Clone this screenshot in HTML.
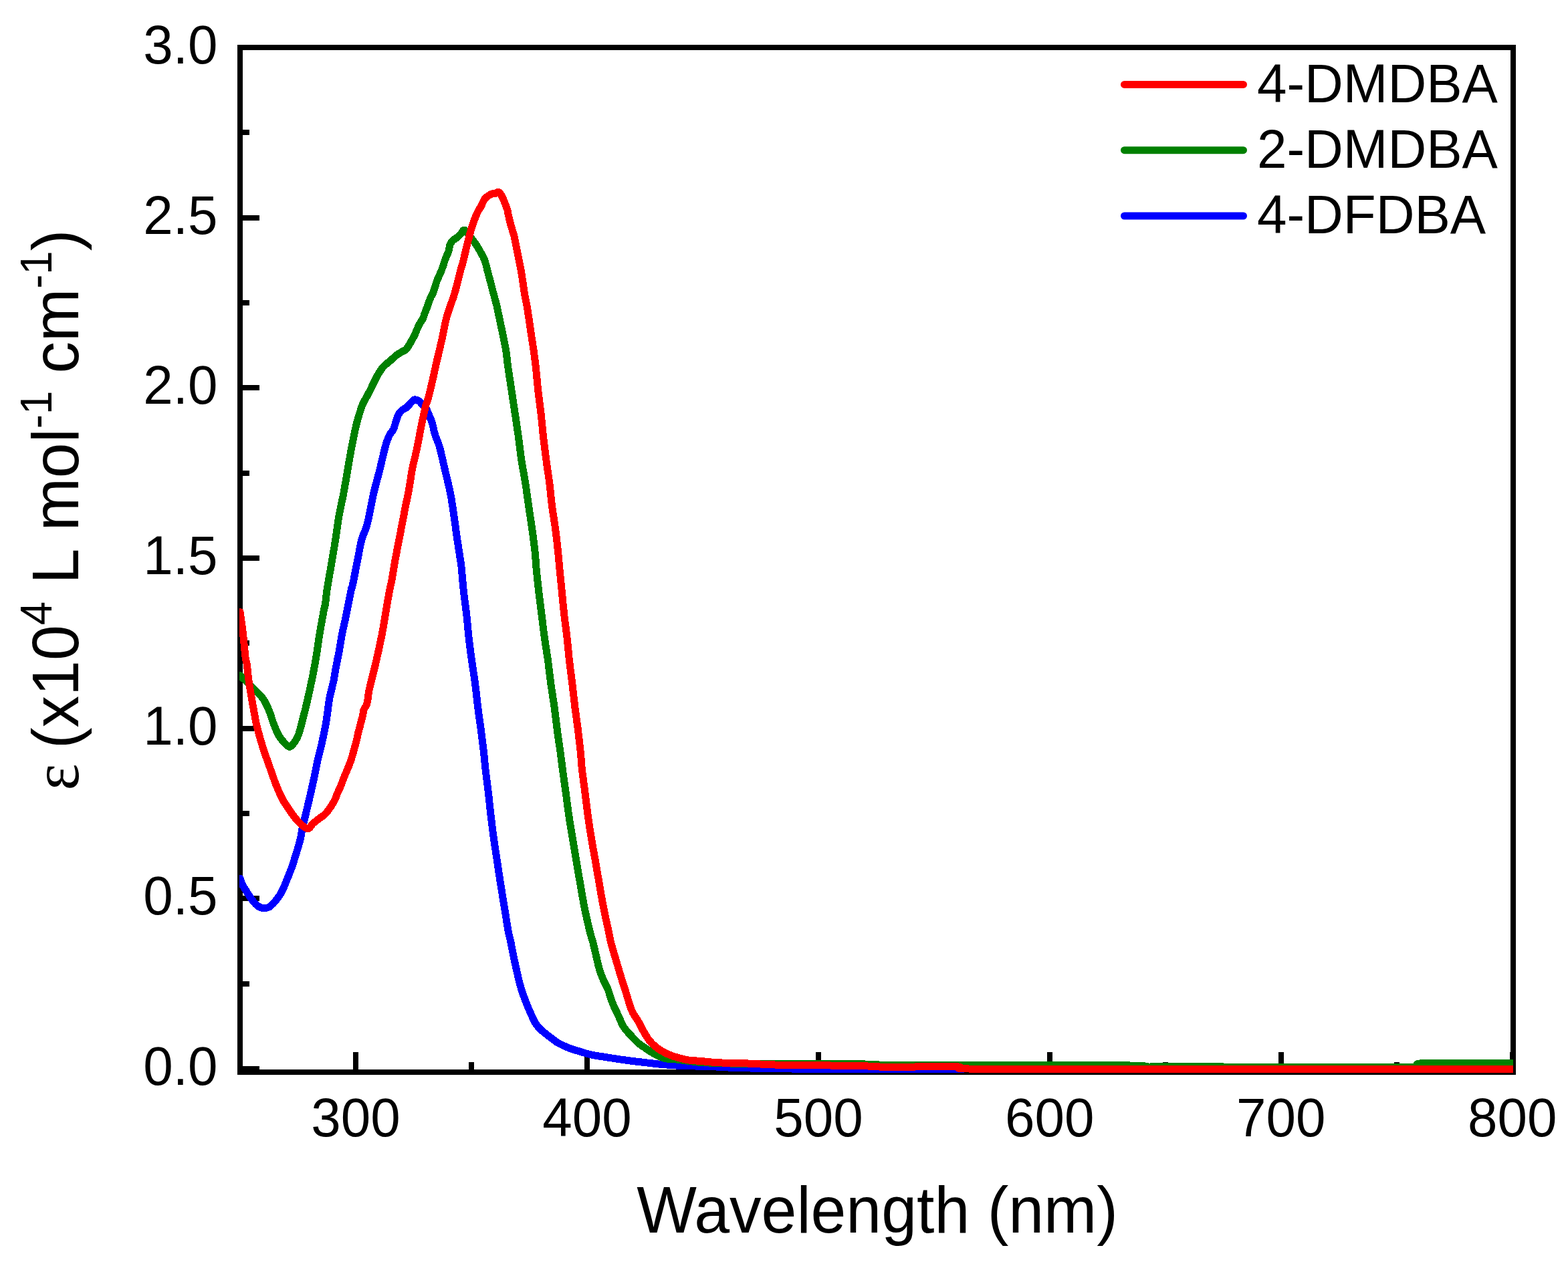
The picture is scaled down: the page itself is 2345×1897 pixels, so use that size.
<!DOCTYPE html><html><head><meta charset="utf-8"><title>Absorption spectra</title><style>html,body{margin:0;padding:0;background:#fff;}svg{display:block;}text{font-family:"Liberation Sans",Arial,sans-serif;fill:#000;}</style></head><body>
<svg width="2345" height="1897" viewBox="0 0 2345 1897">
<rect x="0" y="0" width="2345" height="1897" fill="#fff"/>
<path d="M363 1599.0h25M363 1471.7h10M363 1344.3h25M363 1217.0h10M363 1089.7h25M363 962.4h10M363 835.0h25M363 707.7h10M363 580.4h25M363 453.1h10M363 325.8h25M363 198.4h10M363 71.1h25M532.1 1600v-26M705.0 1600v-11M878.0 1600v-26M1050.9 1600v-11M1223.9 1600v-26M1396.9 1600v-11M1569.8 1600v-26M1742.8 1600v-11M1915.7 1600v-26M2088.7 1600v-11M2261.7 1600v-26" stroke="#000" stroke-width="8" fill="none" shape-rendering="crispEdges"/>
<rect x="359" y="71" width="1904" height="1533" fill="none" stroke="#000" stroke-width="8" shape-rendering="crispEdges"/>
<defs><clipPath id="pc"><rect x="358" y="67" width="1905" height="1545"/></clipPath></defs>
<g fill="none" stroke-width="11" stroke-linejoin="round" stroke-linecap="round" clip-path="url(#pc)" shape-rendering="crispEdges">
<path d="M359.1 1314.0C359.4 1315.0 360.2 1317.8 361.0 1319.8C361.8 1321.8 362.9 1324.3 364.0 1326.3C365.1 1328.3 366.0 1329.4 367.6 1331.9C369.2 1334.4 371.5 1338.2 373.5 1341.1C375.5 1344.0 377.3 1347.0 379.4 1349.5C381.5 1352.0 384.0 1354.3 386.1 1355.8C388.2 1357.3 390.1 1357.8 391.9 1358.3C393.7 1358.8 395.2 1358.7 397.0 1358.5C398.8 1358.3 400.4 1358.2 402.4 1357.0C404.3 1355.8 406.6 1353.8 408.7 1351.6C410.8 1349.4 413.0 1346.7 415.0 1344.0C417.0 1341.3 418.8 1338.7 420.5 1335.7C422.2 1332.7 423.6 1329.5 425.1 1326.0C426.6 1322.5 428.2 1318.3 429.7 1314.7C431.2 1311.1 432.5 1308.0 433.9 1304.2C435.3 1300.4 435.8 1299.7 438.3 1291.9C440.8 1284.1 446.5 1265.8 448.7 1257.4C450.9 1249.0 450.2 1248.3 451.7 1241.4C453.2 1234.5 455.7 1224.5 457.7 1216.0C459.7 1207.5 461.8 1199.2 463.7 1190.7C465.6 1182.2 467.6 1173.8 469.4 1165.3C471.2 1156.8 472.7 1148.0 474.5 1140.0C476.3 1132.0 478.8 1122.9 480.2 1117.0C481.6 1111.1 481.6 1111.0 482.9 1104.6C484.2 1098.2 486.6 1087.3 488.0 1078.7C489.4 1070.1 490.6 1059.0 491.5 1052.8C492.4 1046.6 492.2 1047.1 493.5 1041.3C494.8 1035.5 497.4 1025.9 499.0 1018.2C500.6 1010.5 501.9 1001.0 503.0 995.2C504.1 989.5 504.5 987.5 505.3 983.7C506.1 979.9 506.6 978.0 507.6 972.2C508.6 966.4 510.0 956.8 511.5 949.1C513.0 941.4 514.9 933.8 516.5 926.1C518.1 918.4 519.6 910.7 521.1 903.0C522.6 895.3 524.7 884.4 525.7 880.0C526.7 875.6 525.7 882.9 527.1 876.5C528.5 870.1 531.7 853.4 534.0 841.9C536.3 830.4 538.6 816.0 540.9 807.4C543.1 798.8 545.7 795.8 547.5 790.0C549.3 784.2 549.9 781.4 551.8 772.8C553.7 764.2 556.1 749.7 558.7 738.2C561.4 726.7 564.8 715.2 567.7 703.7C570.6 692.2 573.6 677.8 576.0 669.1C578.4 660.5 579.9 656.3 582.0 651.8C584.1 647.3 586.7 645.7 588.4 642.2C590.1 638.7 590.9 634.2 592.1 630.6C593.3 627.0 594.2 623.2 595.8 620.3C597.4 617.4 599.9 615.1 601.9 613.3C603.9 611.5 606.0 611.2 608.0 609.6C610.0 608.0 611.8 605.5 613.6 603.6C615.4 601.7 617.3 599.3 618.7 598.4C620.1 597.5 620.9 597.9 621.9 598.0C622.9 598.1 623.6 598.3 624.7 598.9C625.8 599.5 627.4 600.6 628.5 601.7C629.6 602.8 629.9 604.0 631.3 605.4C632.6 606.8 635.3 608.4 636.6 610.0C637.9 611.6 637.6 611.4 639.1 615.0C640.6 618.6 644.0 625.7 645.9 631.5C647.8 637.3 648.6 643.7 650.5 650.0C652.4 656.3 655.0 660.0 657.5 669.1C660.0 678.2 663.1 692.9 665.8 704.5C668.5 716.1 671.6 727.5 673.8 739.0C676.0 750.5 677.5 762.2 679.2 773.7C680.9 785.2 682.3 796.9 684.0 808.3C685.7 819.7 688.2 834.9 689.2 841.9C690.2 848.9 689.5 842.9 690.2 850.0C690.9 857.1 692.1 873.1 693.4 884.6C694.6 896.1 696.4 907.6 697.7 919.1C699.0 930.6 699.8 942.2 701.1 953.7C702.4 965.2 703.9 976.7 705.5 988.2C707.1 999.7 709.1 1011.3 710.6 1022.8C712.1 1034.3 713.2 1045.9 714.6 1057.4C716.0 1068.9 717.8 1080.4 719.3 1091.9C720.8 1103.4 722.5 1116.8 723.6 1126.5C724.7 1136.2 724.8 1140.3 725.9 1150.0C727.0 1159.7 728.9 1173.1 730.2 1184.6C731.6 1196.1 732.6 1207.6 734.0 1219.1C735.4 1230.6 736.7 1242.2 738.3 1253.7C739.9 1265.2 741.8 1276.7 743.5 1288.2C745.2 1299.7 746.9 1311.3 748.7 1322.8C750.5 1334.3 752.5 1345.9 754.4 1357.4C756.3 1368.9 758.3 1383.1 759.9 1391.9C761.5 1400.7 762.4 1402.3 764.0 1410.0C765.6 1417.7 767.6 1428.7 769.6 1438.0C771.6 1447.3 774.2 1458.9 775.9 1465.9C777.6 1472.9 778.1 1474.8 779.8 1480.0C781.4 1485.2 783.6 1491.5 785.8 1497.3C788.0 1503.1 790.4 1508.8 793.0 1514.6C795.6 1520.3 798.6 1527.4 801.4 1531.8C804.2 1536.2 806.3 1537.9 809.7 1541.1C813.1 1544.3 817.8 1547.8 821.8 1550.9C825.8 1554.0 829.5 1557.1 833.4 1559.5C837.2 1561.9 841.1 1563.6 844.9 1565.3C848.7 1567.0 852.6 1568.6 856.4 1569.9C860.2 1571.2 864.1 1572.2 867.9 1573.3C871.7 1574.4 875.7 1575.8 879.4 1576.8C883.1 1577.8 885.7 1578.3 890.0 1579.1C894.3 1579.9 899.0 1580.5 905.0 1581.4C911.0 1582.3 918.8 1583.7 925.7 1584.7C932.6 1585.7 939.6 1586.6 946.5 1587.5C953.4 1588.4 960.3 1589.1 967.2 1589.9C974.1 1590.7 979.2 1591.5 988.0 1592.3C996.8 1593.1 1008.0 1594.0 1020.0 1594.5C1032.0 1595.0 1046.7 1595.0 1060.0 1595.5C1073.3 1596.0 1085.0 1597.0 1100.0 1597.5C1115.0 1598.0 1133.3 1598.2 1150.0 1598.5C1166.7 1598.8 1175.0 1599.0 1200.0 1599.2C1225.0 1599.4 1260.5 1599.4 1300.0 1599.4C1339.5 1599.4 1410.3 1599.4 1437.0 1599.3C1463.7 1599.2 1322.3 1598.9 1460.0 1598.8C1597.7 1598.7 2129.2 1598.8 2263.0 1598.8" stroke="#0000ff"/>
<path d="M359.1 1010.5C361.3 1012.6 367.7 1018.8 372.3 1023.3C376.9 1027.8 383.0 1033.7 386.7 1037.6C390.4 1041.5 391.8 1042.5 394.5 1046.9C397.2 1051.3 400.4 1058.3 402.8 1064.1C405.2 1069.8 406.4 1075.4 408.7 1081.4C411.0 1087.4 413.9 1095.0 416.6 1099.9C419.3 1104.8 422.3 1108.1 425.0 1111.0C427.7 1113.9 430.5 1117.3 433.0 1117.3C435.5 1117.3 437.8 1113.9 440.0 1111.0C442.2 1108.1 444.4 1104.2 446.1 1099.9C447.9 1095.6 448.4 1093.2 450.5 1085.0C452.6 1076.8 456.4 1062.1 459.0 1051.0C461.6 1039.9 463.9 1029.4 466.2 1018.2C468.5 1007.0 470.8 995.2 472.7 983.7C474.6 972.2 476.0 960.6 477.9 949.1C479.8 937.6 482.6 922.3 484.0 914.6C485.4 906.9 485.7 908.8 486.6 903.0C487.5 897.2 487.8 890.2 489.4 880.0C491.0 869.8 493.9 854.0 496.0 841.9C498.1 829.8 499.9 818.9 501.7 807.4C503.5 795.9 504.8 784.3 506.8 772.8C508.8 761.3 511.6 749.7 513.8 738.2C516.0 726.7 517.8 715.2 519.8 703.7C521.8 692.2 523.7 680.6 525.9 669.1C528.1 657.6 530.6 644.7 533.1 634.6C535.6 624.5 538.9 614.4 540.9 608.6C542.9 602.8 542.9 603.9 544.9 600.0C546.9 596.1 550.7 589.5 553.0 585.0C555.3 580.5 557.0 576.6 558.9 572.8C560.8 569.0 562.1 565.9 564.1 562.4C566.1 558.9 568.6 554.8 570.6 552.0C572.6 549.2 573.8 548.1 576.3 545.8C578.8 543.5 583.0 540.2 585.6 538.0C588.2 535.8 589.5 534.1 591.8 532.3C594.1 530.5 597.1 528.6 599.6 527.1C602.1 525.6 604.9 524.7 606.9 523.0C608.9 521.3 610.1 519.0 611.5 516.8C612.9 514.6 613.8 512.7 615.3 510.0C616.8 507.3 619.1 503.4 620.5 500.5C621.9 497.6 622.6 495.1 623.8 492.4C625.0 489.7 626.1 487.1 627.6 484.4C629.1 481.7 631.3 479.0 632.6 476.3C633.9 473.6 634.4 470.9 635.4 468.2C636.4 465.5 637.5 462.9 638.5 460.2C639.5 457.5 640.3 454.8 641.3 452.1C642.3 449.4 643.4 446.3 644.5 444.0C645.6 441.7 646.2 442.0 647.7 438.2C649.2 434.4 651.1 426.8 653.2 421.0C655.4 415.2 658.6 409.0 660.6 403.7C662.6 398.4 663.8 393.8 665.5 389.1C667.2 384.4 669.9 379.1 671.1 375.3C672.3 371.5 671.8 368.7 672.9 366.1C674.0 363.5 675.6 361.5 677.5 359.6C679.4 357.8 682.0 356.7 684.0 355.0C686.0 353.3 687.6 351.3 689.5 349.5C691.4 347.7 692.4 342.8 695.3 344.4C698.2 346.0 704.2 355.6 707.0 359.2C709.8 362.8 710.3 363.4 712.1 366.1C713.9 368.8 715.7 371.9 717.6 375.3C719.5 378.7 722.1 382.9 723.6 386.4C725.1 389.8 725.9 393.0 726.8 396.0C727.7 399.0 727.8 400.3 728.9 404.6C730.0 408.9 732.1 416.3 733.6 422.0C735.1 427.7 736.5 433.2 738.0 439.0C739.5 444.8 741.3 450.7 742.7 456.5C744.1 462.3 745.2 468.1 746.4 473.8C747.6 479.6 748.8 485.1 750.0 491.0C751.2 496.9 752.6 503.3 753.8 509.2C755.0 515.1 756.0 519.7 757.0 526.5C758.0 533.3 758.5 540.3 759.9 550.0C761.2 559.7 763.4 573.1 765.1 584.6C766.8 596.1 768.6 607.6 770.3 619.1C772.0 630.6 773.8 642.2 775.4 653.7C777.0 665.2 778.1 676.7 779.8 688.2C781.5 699.7 784.0 711.3 785.8 722.8C787.6 734.3 789.0 745.9 790.7 757.4C792.4 768.9 794.2 780.4 795.8 791.9C797.4 803.4 799.2 816.8 800.2 826.5C801.2 836.2 801.1 840.3 802.0 850.0C802.9 859.7 804.4 873.1 805.7 884.6C807.0 896.1 808.6 907.6 810.0 919.1C811.4 930.6 812.7 942.2 814.3 953.7C815.9 965.2 817.9 976.7 819.5 988.2C821.1 999.7 822.2 1011.3 823.8 1022.8C825.4 1034.3 827.4 1045.9 829.0 1057.4C830.6 1068.9 831.8 1080.4 833.3 1091.9C834.8 1103.4 836.9 1116.8 838.2 1126.5C839.5 1136.2 839.9 1140.3 841.2 1150.0C842.5 1159.7 844.4 1173.1 846.0 1184.6C847.6 1196.1 848.9 1207.6 850.6 1219.1C852.3 1230.6 854.4 1242.2 856.3 1253.7C858.2 1265.2 860.0 1276.7 861.9 1288.2C863.8 1299.7 865.9 1311.3 867.9 1322.8C869.9 1334.3 871.7 1345.9 874.0 1357.4C876.3 1368.9 879.6 1383.1 881.7 1391.9C883.8 1400.7 884.8 1402.3 886.8 1410.0C888.8 1417.7 891.8 1431.3 893.4 1438.0C895.0 1444.7 894.9 1445.3 896.4 1450.0C897.9 1454.7 900.1 1460.9 902.2 1465.9C904.3 1470.9 906.8 1474.2 909.1 1480.0C911.4 1485.8 913.3 1493.8 916.1 1500.7C918.9 1507.6 923.1 1515.7 925.7 1521.5C928.4 1527.3 929.5 1531.1 932.0 1535.3C934.5 1539.5 937.4 1542.4 941.0 1546.4C944.6 1550.4 949.6 1556.0 953.4 1559.5C957.2 1563.0 960.3 1564.7 963.8 1567.1C967.2 1569.5 970.6 1571.9 974.1 1574.0C977.6 1576.1 981.0 1578.0 984.5 1579.6C988.0 1581.2 990.9 1582.8 994.9 1583.7C998.9 1584.6 1003.0 1584.1 1008.7 1584.7C1014.5 1585.3 1023.6 1586.5 1029.4 1587.2C1035.2 1587.9 1038.2 1588.5 1043.3 1589.0C1048.4 1589.5 1050.5 1589.6 1060.0 1590.0C1069.5 1590.4 1085.2 1590.9 1100.0 1591.2C1114.8 1591.5 1125.3 1591.7 1149.0 1591.7C1172.7 1591.7 1220.2 1591.2 1242.0 1591.2C1263.8 1591.2 1264.5 1591.1 1280.0 1591.5C1295.5 1591.9 1315.0 1593.3 1335.0 1593.7C1355.0 1594.1 1340.8 1593.8 1400.0 1593.8C1459.2 1593.8 1639.2 1593.4 1690.0 1594.0C1740.8 1594.6 1700.0 1597.2 1705.0 1597.5C1710.0 1597.8 1699.2 1596.2 1720.0 1596.0C1740.8 1595.8 1800.0 1595.9 1830.0 1596.0C1860.0 1596.1 1851.5 1596.4 1900.0 1596.5C1948.5 1596.6 2083.5 1597.2 2121.0 1596.8C2158.5 1596.4 2123.3 1595.0 2125.0 1594.0C2126.7 1593.0 2108.0 1591.2 2131.0 1590.6C2154.0 1590.0 2241.0 1590.5 2263.0 1590.5" stroke="#008000"/>
<path d="M359.1 915.5C359.9 921.1 362.3 937.7 363.6 949.1C364.9 960.5 366.1 976.1 367.1 983.7C368.1 991.4 368.6 989.3 369.4 995.0C370.2 1000.7 370.9 1010.3 372.0 1018.0C373.1 1025.7 374.4 1033.4 375.7 1041.1C377.0 1048.8 378.4 1056.4 379.8 1064.1C381.2 1071.8 382.1 1078.0 384.4 1087.2C386.7 1096.4 390.3 1109.2 393.4 1119.1C396.5 1128.9 400.6 1139.6 402.9 1146.3C405.2 1153.0 405.9 1154.8 407.4 1159.0C408.9 1163.2 410.3 1167.5 411.9 1171.7C413.5 1175.9 415.3 1180.2 417.2 1184.4C419.1 1188.6 420.8 1192.8 423.2 1197.0C425.6 1201.2 428.7 1205.7 431.4 1209.7C434.1 1213.7 436.5 1217.4 439.4 1221.1C442.3 1224.8 445.4 1228.8 448.9 1231.9C452.4 1235.1 457.1 1240.0 460.3 1240.0C463.5 1240.0 465.0 1234.8 467.9 1232.2C470.8 1229.6 474.2 1227.1 477.4 1224.6C480.6 1222.1 483.7 1220.7 486.9 1217.3C490.1 1213.9 493.9 1208.0 496.4 1204.3C498.8 1200.6 500.2 1197.8 501.6 1195.0C503.0 1192.2 503.1 1190.4 504.5 1187.2C505.9 1184.0 508.1 1179.4 509.7 1175.6C511.3 1171.8 512.5 1167.9 514.0 1164.1C515.5 1160.3 517.3 1156.4 518.9 1152.6C520.5 1148.8 522.1 1144.9 523.5 1141.1C524.9 1137.3 526.1 1133.4 527.3 1129.6C528.4 1125.8 529.3 1121.8 530.4 1118.0C531.5 1114.2 532.7 1110.3 533.6 1106.5C534.5 1102.7 535.3 1097.9 536.0 1095.0C536.7 1092.1 537.0 1091.6 537.7 1089.1C538.4 1086.6 539.2 1083.0 540.0 1079.9C540.8 1076.8 541.7 1073.8 542.4 1070.7C543.1 1067.6 543.2 1064.2 544.2 1061.5C545.2 1058.8 547.3 1056.9 548.2 1054.6C549.1 1052.3 549.2 1051.1 549.8 1047.6C550.4 1044.1 550.9 1038.4 551.8 1033.8C552.7 1029.2 553.4 1026.4 555.0 1020.0C556.6 1013.6 559.3 1003.2 561.2 995.2C563.1 987.2 564.7 979.9 566.4 972.2C568.1 964.5 569.7 956.8 571.2 949.1C572.7 941.4 574.0 933.8 575.3 926.1C576.6 918.4 577.8 910.7 579.1 903.0C580.4 895.3 582.2 885.5 583.3 880.0C584.4 874.5 584.8 874.4 585.6 870.0C586.4 865.6 587.2 859.9 588.3 853.7C589.3 847.5 590.6 839.8 591.9 832.9C593.2 826.0 594.6 819.1 595.9 812.2C597.2 805.3 598.6 798.4 599.9 791.5C601.2 784.6 602.5 777.6 603.9 770.7C605.2 763.8 607.1 754.5 608.0 750.0C608.9 745.5 608.5 748.2 609.4 743.7C610.3 739.2 612.0 729.8 613.2 722.9C614.4 716.0 615.1 709.1 616.4 702.2C617.7 695.3 619.7 688.4 621.2 681.5C622.7 674.6 624.2 667.6 625.6 660.7C627.0 653.8 627.7 648.9 629.5 640.0C631.3 631.1 635.0 614.0 636.6 607.3C638.2 600.6 637.8 605.2 639.2 600.0C640.7 594.8 643.0 585.7 645.3 576.0C647.6 566.3 650.3 553.2 652.9 541.9C655.5 530.6 658.2 519.7 660.8 508.3C663.3 496.9 665.0 485.2 668.2 473.7C671.4 462.2 676.4 450.6 679.8 439.1C683.2 427.6 686.7 412.2 688.7 404.6C690.7 397.0 690.7 398.6 692.0 393.7C693.3 388.8 694.9 381.4 696.4 375.3C697.9 369.2 699.4 363.0 701.0 356.9C702.6 350.8 704.0 344.7 706.1 338.4C708.2 332.1 711.3 323.9 713.5 319.0C715.7 314.1 717.6 312.0 719.3 308.9C720.9 305.8 722.2 302.4 723.4 300.2C724.6 298.0 725.2 297.2 726.5 295.9C727.8 294.6 729.4 293.6 731.1 292.5C732.8 291.4 735.3 290.1 736.9 289.6C738.5 289.1 739.8 289.6 740.9 289.3C742.0 289.0 742.5 287.8 743.5 287.6C744.5 287.4 745.7 287.2 746.7 287.9C747.7 288.6 748.7 290.0 749.6 291.6C750.5 293.2 751.5 295.5 752.4 297.4C753.2 299.3 753.9 301.2 754.7 303.1C755.5 305.0 756.3 307.0 757.0 308.9C757.7 310.8 758.6 312.8 759.1 314.6C759.6 316.5 759.1 316.4 759.9 320.0C760.7 323.6 762.4 330.8 763.9 336.4C765.4 342.0 767.6 347.9 769.0 353.7C770.4 359.5 771.3 365.2 772.5 371.0C773.7 376.8 774.9 382.4 776.0 388.2C777.1 393.9 778.4 399.7 779.4 405.5C780.4 411.3 781.1 417.0 782.0 422.8C782.9 428.6 783.6 434.3 784.6 440.1C785.6 445.9 787.0 451.6 788.0 457.4C789.0 463.2 789.8 468.9 790.7 474.7C791.6 480.4 792.4 486.1 793.2 491.9C794.1 497.6 794.9 503.4 795.8 509.2C796.7 515.0 797.5 519.7 798.4 526.5C799.3 533.3 800.3 540.3 801.4 550.0C802.5 559.7 803.5 573.1 804.8 584.6C806.1 596.1 807.8 607.6 809.1 619.1C810.4 630.6 811.3 642.2 812.6 653.7C813.9 665.2 815.4 676.7 816.9 688.2C818.4 699.7 820.3 711.3 821.8 722.8C823.2 734.3 824.1 745.9 825.6 757.4C827.1 768.9 829.2 780.4 830.7 791.9C832.2 803.4 833.7 816.8 834.7 826.5C835.7 836.2 835.9 840.3 836.8 850.0C837.7 859.7 839.1 873.1 840.3 884.6C841.4 896.1 842.4 907.6 843.7 919.1C845.0 930.6 846.7 942.2 848.0 953.7C849.3 965.2 850.2 976.7 851.5 988.2C852.8 999.7 854.4 1011.3 855.8 1022.8C857.2 1034.3 858.4 1045.9 859.8 1057.4C861.2 1068.9 863.0 1080.4 864.4 1091.9C865.8 1103.4 867.4 1116.8 868.4 1126.5C869.4 1136.2 869.2 1140.3 870.3 1150.0C871.4 1159.7 873.3 1173.1 874.8 1184.6C876.3 1196.1 877.5 1207.6 879.1 1219.1C880.7 1230.6 882.4 1242.2 884.3 1253.7C886.2 1265.2 888.4 1276.7 890.4 1288.2C892.4 1299.7 894.4 1311.3 896.4 1322.8C898.4 1334.3 900.2 1345.9 902.5 1357.4C904.8 1368.9 908.0 1383.1 909.9 1391.9C911.8 1400.7 911.6 1402.3 913.6 1410.0C915.6 1417.7 919.0 1428.7 921.7 1438.0C924.5 1447.3 927.9 1458.9 930.1 1465.9C932.3 1472.9 932.9 1474.2 934.7 1480.0C936.5 1485.8 939.1 1494.9 941.0 1500.7C942.9 1506.5 943.8 1510.0 946.1 1514.6C948.4 1519.2 952.1 1523.8 954.8 1528.4C957.4 1533.0 959.4 1537.6 962.0 1542.2C964.6 1546.8 967.5 1552.0 970.7 1556.0C973.9 1560.0 977.5 1563.5 981.0 1566.4C984.5 1569.3 987.4 1571.1 991.4 1573.3C995.4 1575.5 1000.6 1577.9 1005.2 1579.6C1009.8 1581.3 1014.5 1582.5 1019.1 1583.7C1023.7 1584.9 1028.6 1585.9 1032.9 1586.5C1037.2 1587.1 1038.0 1586.7 1045.0 1587.2C1052.0 1587.8 1063.5 1589.2 1074.6 1589.8C1085.7 1590.4 1099.4 1590.2 1111.8 1590.7C1124.2 1591.2 1136.7 1592.1 1149.1 1592.6C1161.5 1593.1 1174.0 1593.7 1186.4 1593.9C1198.8 1594.1 1211.3 1593.9 1223.7 1593.9C1236.1 1594.0 1248.6 1594.0 1261.0 1594.2C1273.4 1594.4 1285.8 1594.5 1298.2 1595.0C1310.6 1595.5 1323.1 1596.8 1335.5 1596.9C1347.9 1597.1 1362.0 1596.1 1372.8 1595.9C1383.5 1595.7 1389.8 1595.5 1400.0 1595.5C1410.2 1595.5 1427.0 1595.4 1434.0 1596.0C1441.0 1596.6 1422.7 1598.4 1442.0 1598.9C1461.3 1599.4 1507.0 1599.0 1550.0 1599.0C1593.0 1599.0 1641.7 1599.2 1700.0 1599.2C1758.3 1599.2 1806.2 1599.2 1900.0 1599.3C1993.8 1599.3 2202.5 1599.5 2263.0 1599.5" stroke="#ff0000"/>
</g>
<text transform="translate(325.5 1623.0) scale(1 1.015)" font-size="80" text-anchor="end">0.0</text>
<text transform="translate(325.5 1368.3) scale(1 1.015)" font-size="80" text-anchor="end">0.5</text>
<text transform="translate(325.5 1113.7) scale(1 1.015)" font-size="80" text-anchor="end">1.0</text>
<text transform="translate(325.5 859.0) scale(1 1.015)" font-size="80" text-anchor="end">1.5</text>
<text transform="translate(325.5 604.4) scale(1 1.015)" font-size="80" text-anchor="end">2.0</text>
<text transform="translate(325.5 349.8) scale(1 1.015)" font-size="80" text-anchor="end">2.5</text>
<text transform="translate(325.5 95.1) scale(1 1.015)" font-size="80" text-anchor="end">3.0</text>
<text transform="translate(532.1 1700) scale(1 1.015)" font-size="80" text-anchor="middle">300</text>
<text transform="translate(878.0 1700) scale(1 1.015)" font-size="80" text-anchor="middle">400</text>
<text transform="translate(1223.9 1700) scale(1 1.015)" font-size="80" text-anchor="middle">500</text>
<text transform="translate(1569.8 1700) scale(1 1.015)" font-size="80" text-anchor="middle">600</text>
<text transform="translate(1915.7 1700) scale(1 1.015)" font-size="80" text-anchor="middle">700</text>
<text transform="translate(2261.7 1700) scale(1 1.015)" font-size="80" text-anchor="middle">800</text>
<text transform="translate(1312 1844) scale(1 1.04)" font-size="95" text-anchor="middle">Wavelength (nm)</text>
<text transform="translate(116.5 1182.5) rotate(-90) scale(1 1.04)" font-size="95"><tspan font-family="Liberation Serif, serif">ε</tspan><tspan dx="-3.8"> (x10</tspan><tspan font-size="63.5" dy="-38">4</tspan><tspan dy="38"> L</tspan><tspan> mol</tspan><tspan font-size="63.5" dy="-38">-1</tspan><tspan dy="38"> cm</tspan><tspan font-size="63.5" dy="-38">-1</tspan><tspan dy="38">)</tspan></text>
<path d="M1681.5 126.4H1859.5" stroke="#ff0000" stroke-width="11" stroke-linecap="round"/>
<text transform="translate(1880 152.7) scale(1 1.03)" font-size="80">4-DMDBA</text>
<path d="M1681.5 224.7H1859.5" stroke="#008000" stroke-width="11" stroke-linecap="round"/>
<text transform="translate(1880 251.0) scale(1 1.03)" font-size="80">2-DMDBA</text>
<path d="M1681.5 323.0H1859.5" stroke="#0000ff" stroke-width="11" stroke-linecap="round"/>
<text transform="translate(1880 349.3) scale(1 1.03)" font-size="80">4-DFDBA</text>
</svg></body></html>
